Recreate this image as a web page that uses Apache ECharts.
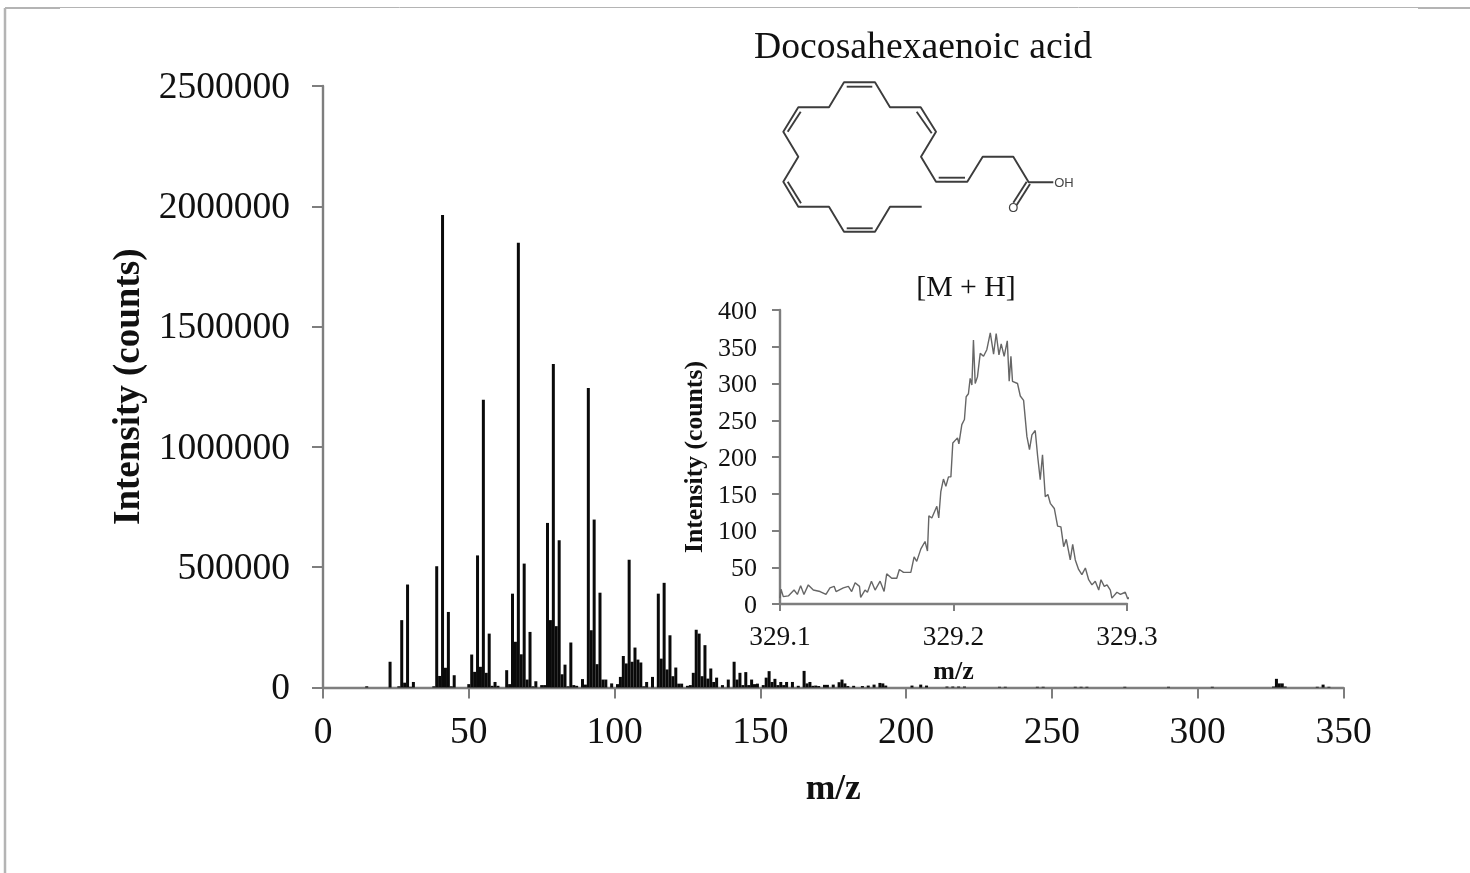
<!DOCTYPE html>
<html>
<head>
<meta charset="utf-8">
<title>Docosahexaenoic acid mass spectrum</title>
<style>html,body{margin:0;padding:0;background:#fff}#chart{width:1470px;height:873px;filter:blur(0.4px)}</style>
<script src="https://cdn.jsdelivr.net/npm/echarts@6/dist/echarts.min.js"></script>
</head>
<body>
<div id="chart"></div>
<script>
const spectrumMz = [15,23,26,27,28,29,30,31,38,39,40,41,42,43,44,45,50,51,52,53,54,55,56,57,58,59,60,63,64,65,66,67,68,69,70,71,72,73,75,76,77,78,79,80,81,82,83,84,85,86,87,89,90,91,92,93,94,95,96,97,99,101,102,103,104,105,106,107,108,109,110,111,113,115,116,117,118,119,120,121,122,123,125,126,127,128,129,130,131,132,133,134,135,137,139,141,142,143,144,145,146,147,148,149,151,152,153,154,155,156,157,158,159,161,163,165,166,167,168,169,170,172,173,175,177,178,179,180,182,185,187,189,191,192,193,202,205,207,214,216,218,220,232,234,245,247,258,260,262,275,290,305,326,327,328,329,330,341,343,345];
const spectrumCounts = [5000,107000,5000,280000,20000,428000,3000,23000,5000,504000,48000,1964000,82000,314000,5000,51000,14000,137000,65000,549000,86000,1196000,61000,224000,7000,23000,7000,72000,14000,390000,190000,1848000,138000,515000,33000,231000,5000,26000,10000,10000,684000,280000,1345000,255000,612000,55000,95000,5000,187000,10000,7000,35000,12000,1245000,238000,698000,97000,394000,33000,33000,17000,14000,44000,131000,100000,531000,107000,166000,116000,104000,5000,23000,44000,390000,120000,435000,75000,217000,47000,83000,16000,16000,7000,10000,61000,240000,224000,47000,176000,37000,79000,23000,41000,10000,33000,107000,33000,61000,10000,64000,10000,33000,14000,16000,10000,41000,68000,23000,36000,10000,23000,10000,23000,23000,7000,69000,17000,23000,7000,8000,6000,11000,11000,12000,22000,33000,17000,6000,7000,6000,8000,12000,19000,17000,8000,8000,12000,8000,4000,4000,4000,4000,3000,3000,3000,3000,3000,3000,3000,3000,3000,3000,4000,36000,17000,17000,4000,3000,12000,3000];
const spectrumTicksX = [0,50,100,150,200,250,300,350];
const spectrumTicksY = [0,500000,1000000,1500000,2000000,2500000];

const peakMz = [329.1000,329.1006,329.1019,329.1048,329.1081,329.1100,329.1119,329.1138,329.1163,329.1192,329.1231,329.1265,329.1288,329.1312,329.1323,329.1365,329.1394,329.1413,329.1433,329.1458,329.1465,329.1490,329.1504,329.1527,329.1548,329.1577,329.1600,329.1615,329.1644,329.1673,329.1688,329.1712,329.1754,329.1773,329.1788,329.1812,329.1836,329.1850,329.1858,329.1875,329.1904,329.1915,329.1927,329.1942,329.1956,329.1971,329.1985,329.1996,329.2023,329.2031,329.2048,329.2063,329.2073,329.2086,329.2096,329.2106,329.2115,329.2125,329.2138,329.2154,329.2173,329.2192,329.2212,329.2231,329.2246,329.2262,329.2275,329.2292,329.2310,329.2321,329.2331,329.2340,329.2369,329.2385,329.2404,329.2423,329.2438,329.2452,329.2471,329.2485,329.2500,329.2513,329.2529,329.2544,329.2558,329.2581,329.2600,329.2619,329.2635,329.2650,329.2673,329.2687,329.2702,329.2721,329.2740,329.2760,329.2779,329.2798,329.2817,329.2837,329.2850,329.2869,329.2885,329.2904,329.2913,329.2942,329.2962,329.2990,329.3004,329.3019];
const peakCounts = [8,20,10,11,19,13,25,13,26,19,17,13,22,24,17,22,24,17,29,24,9,19,16,31,19,31,17,41,35,35,47,43,43,64,58,75,85,72,120,117,133,117,153,170,160,173,173,219,226,218,244,251,282,286,307,298,359,300,309,341,337,346,369,340,368,339,354,337,358,303,337,303,300,283,277,228,210,230,236,201,169,203,146,149,137,130,106,105,78,88,60,81,60,47,40,49,33,26,31,19,33,24,26,19,8,16,13,16,7,10];

const serif = '"Liberation Serif","Times New Roman",serif';
const inkColor = '#111';
const axisGrey = '#7e7e7e';

function axisStyle(tickLen, labelSize, margin, formatter, rich) {
  return {
    axisLine: {show: true, onZero: false, lineStyle: {color: axisGrey, width: 2.4}},
    axisTick: {show: true, length: tickLen, lineStyle: {color: axisGrey, width: 2}},
    axisLabel: {fontFamily: serif, fontSize: labelSize, color: inkColor, margin: margin, formatter: formatter, rich: rich},
    splitLine: {show: false},
    minorTick: {show: false}
  };
}
function bondLine(points) {
  return {type: 'polyline', shape: {points: points}, silent: true,
    style: {stroke: '#3c3c3c', lineWidth: 1.9, fill: null, lineJoin: 'round'}};
}
function frameLine(x1, y1, x2, y2, width) {
  return {type: 'line', shape: {x1, y1, x2, y2}, silent: true,
    style: {stroke: '#b4b4b4', lineWidth: width}};
}
const plainNumber = v => String(v);
const loweredNumber = v => '{n|' + v + '}';
const loweredRich = size => ({n: {fontFamily: serif, fontSize: size, color: inkColor, padding: [4, 0, 0, 0]}});

const chart = echarts.init(document.getElementById('chart'), null, {renderer: 'canvas'});
chart.setOption({
  animation: false,
  backgroundColor: '#fff',
  title: [
    {text: 'Docosahexaenoic acid', left: 918, top: 24, textAlign: 'center',
     textStyle: {fontFamily: serif, fontSize: 37.7, fontWeight: 'normal', color: inkColor}},
    {text: '[M + H]', left: 961, top: 268, textAlign: 'center',
     textStyle: {fontFamily: serif, fontSize: 29.8, fontWeight: 'normal', color: inkColor}}
  ],
  grid: [
    {left: 323, top: 86, width: 1020.5, height: 601.5, containLabel: false},
    {left: 780, top: 310, width: 347, height: 294, containLabel: false}
  ],
  xAxis: [
    Object.assign({type: 'value', gridIndex: 0, min: spectrumTicksX[0], max: spectrumTicksX[spectrumTicksX.length - 1], interval: 50,
      name: 'm/z', nameLocation: 'middle', nameGap: 84,
      nameTextStyle: {fontFamily: serif, fontSize: 35.5, fontWeight: 'bold', color: inkColor}},
      axisStyle(11, 37.5, 27, plainNumber)),
    Object.assign({type: 'value', gridIndex: 1, min: 329.1, max: 329.3, interval: 0.1,
      name: 'm/z', nameLocation: 'middle', nameGap: 55,
      nameTextStyle: {fontFamily: serif, fontSize: 26, fontWeight: 'bold', color: inkColor}},
      axisStyle(7, 27.4, 20, v => v.toFixed(1)))
  ],
  yAxis: [
    Object.assign({type: 'value', gridIndex: 0, min: spectrumTicksY[0], max: spectrumTicksY[spectrumTicksY.length - 1], interval: 500000,
      name: 'Intensity (counts)', nameLocation: 'middle', nameGap: 156, nameRotate: 90,
      nameTextStyle: {fontFamily: serif, fontSize: 37, fontWeight: 'bold', color: inkColor}},
      axisStyle(11, 37.5, 33, loweredNumber, loweredRich(37.5))),
    Object.assign({type: 'value', gridIndex: 1, min: 0, max: 400, interval: 50,
      name: 'Intensity (counts)', nameLocation: 'middle', nameGap: 72, nameRotate: 90,
      nameTextStyle: {fontFamily: serif, fontSize: 25.7, fontWeight: 'bold', color: inkColor}},
      axisStyle(8, 26, 23, loweredNumber, loweredRich(26)))
  ],
  series: [
    {name: 'EI spectrum', type: 'bar', xAxisIndex: 0, yAxisIndex: 0, barWidth: 3, silent: true,
     itemStyle: {color: '#0a0a0a'},
     data: spectrumMz.map((m, i) => [m, spectrumCounts[i]])},
    {name: '[M + H]', type: 'line', xAxisIndex: 1, yAxisIndex: 1, showSymbol: false, clip: false, silent: true,
     lineStyle: {color: '#666', width: 1.4},
     data: peakMz.map((m, i) => [m, peakCounts[i]])}
  ],
  graphic: [
    frameLine(5, 8, 5, 873, 2.5),
    frameLine(5, 8, 60, 8, 2),
    frameLine(60, 7.5, 1418, 7.5, 1),
    frameLine(1418, 8, 1470, 8, 2),
    bondLine([[921.7,206.7],[890,206.7],[875,231.7],[844,231.7],[829,206.7],[798.3,206.7],[783.3,181.7],[798.3,156.7],[783.3,131.7],[798.3,107.3],[829,107.3],[844,82.3],[875,82.3],[890,107.3],[920.7,107.3],[936,131.7],[921,156.7],[936,181.7],[967.3,181.7],[982.7,156.7],[1013.3,156.7],[1028.7,182.3],[1053.3,182.3]]),
    bondLine([[846.7,228.3],[872.7,228.3]]),
    bondLine([[787.7,181.7],[801,203.3]]),
    bondLine([[787.7,131.7],[800.7,111.7]]),
    bondLine([[846.7,86.7],[872.3,86.7]]),
    bondLine([[916.7,111.7],[931.7,133.3]]),
    bondLine([[938.7,177.7],[965,177.7]]),
    bondLine([[1026.7,181.7],[1013.3,202.7]]),
    bondLine([[1030,184],[1016.7,205]]),
    {type: 'text', x: 1064, y: 183, silent: true,
     style: {text: 'OH', fontFamily: '"Liberation Sans",Arial,sans-serif', fontSize: 13, fill: '#444', align: 'center', verticalAlign: 'middle'}},
    {type: 'text', x: 1013.3, y: 208, silent: true,
     style: {text: 'O', fontFamily: '"Liberation Sans",Arial,sans-serif', fontSize: 13, fill: '#444', align: 'center', verticalAlign: 'middle'}}
  ]
});
</script>
</body>
</html>
